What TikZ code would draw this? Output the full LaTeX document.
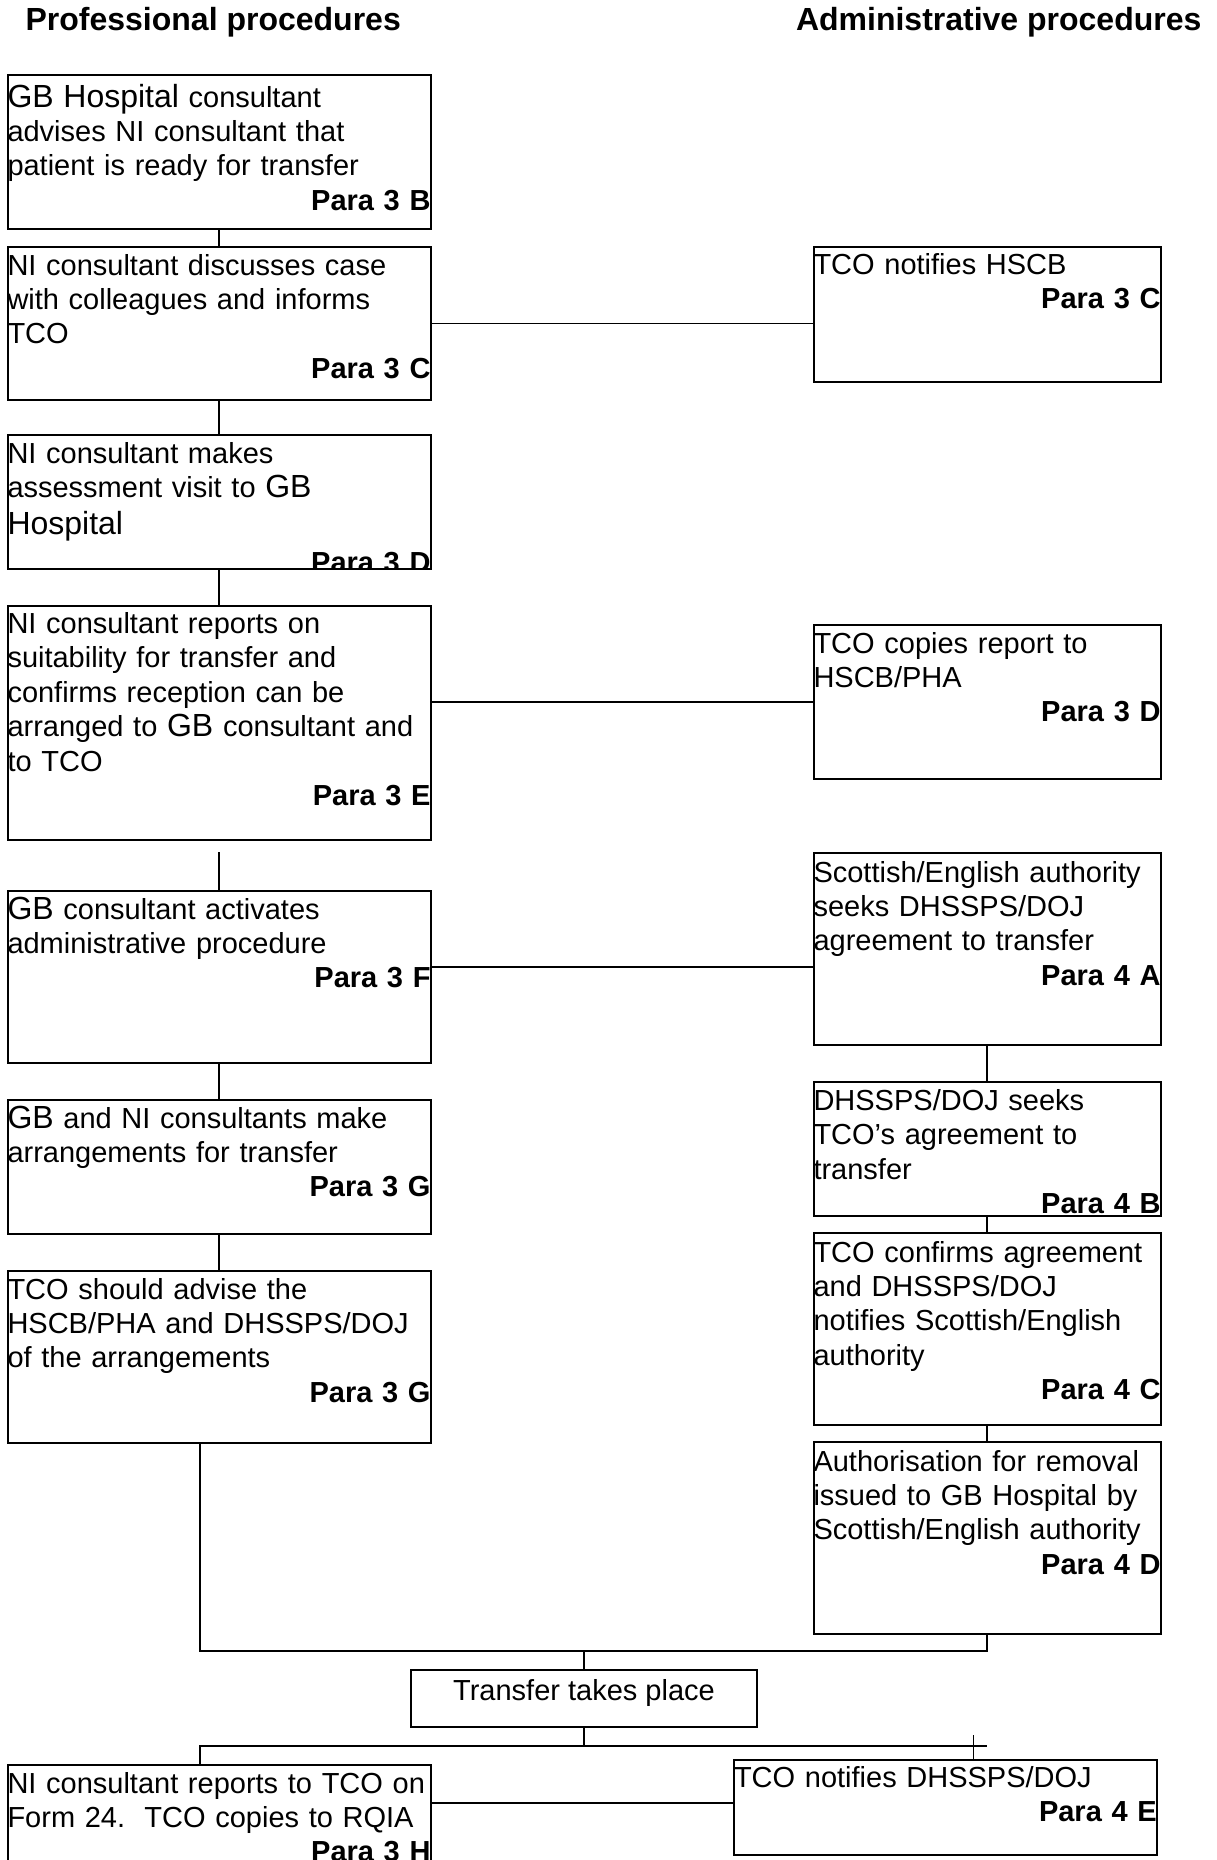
\documentclass[tikz,border=0pt]{standalone}
\usepackage{fontspec}
\setmainfont{Liberation Sans}
\newcommand\bigtxt[1]{{\fontsize{32}{34.4}\selectfont #1}}
\newcommand\paralab[1]{\\\hspace*{0pt plus 1filll}\textbf{#1}}
\newcommand\firststrut{\rule{0pt}{28pt}}
\newcommand\rstrut{\rule{0pt}{29pt}}
\begin{document}
\begin{tikzpicture}[x=1pt,y=-1pt,
  flowbox/.style={draw, line width=2pt, rectangle, inner sep=0pt, outer sep=0pt, anchor=north west},
  boxtext/.style={inner sep=0pt, outer sep=0pt, anchor=north west, align=left, font=\fontsize{29}{34.4}\selectfont},
  headtext/.style={inner sep=0pt, outer sep=0pt, anchor=base west, font=\bfseries\fontsize{32}{38}\selectfont},
  link/.style={line width=1.8pt}]
\useasboundingbox (0,0) rectangle (1216,1860);
\clip (0,0) rectangle (1216,1860);

% headings
\node[headtext] (h1) at (25.6,31) {Professional procedures};
\node[headtext] (h2) at (796,31) {Administrative procedures};

% left column boxes
\node[flowbox, minimum width=423pt, minimum height=154pt] (b1) at (7.5,75) {};
\node[flowbox, minimum width=423pt, minimum height=153pt] (b2) at (7.5,247) {};
\node[flowbox, minimum width=423pt, minimum height=134pt] (b3) at (7.5,435) {};
\node[flowbox, minimum width=423pt, minimum height=234.5pt] (b4) at (7.5,605.5) {};
\node[flowbox, minimum width=423pt, minimum height=172pt] (b5) at (7.5,891) {};
\node[flowbox, minimum width=423pt, minimum height=134pt] (b6) at (7.5,1100) {};
\node[flowbox, minimum width=423pt, minimum height=172pt] (b7) at (7.5,1271) {};
\node[flowbox, minimum width=423pt, minimum height=140pt] (b8) at (7.5,1765) {};

% right column boxes
\node[flowbox, minimum width=347pt, minimum height=134.5pt] (r1) at (813.5,247) {};
\node[flowbox, minimum width=347pt, minimum height=153.5pt] (r2) at (813.5,625) {};
\node[flowbox, minimum width=347pt, minimum height=191.5pt] (r3) at (813.5,853) {};
\node[flowbox, minimum width=347pt, minimum height=134pt] (r4) at (813.5,1081.5) {};
\node[flowbox, minimum width=347pt, minimum height=192pt] (r5) at (813.5,1233) {};
\node[flowbox, minimum width=347pt, minimum height=191.5pt] (r6) at (813.5,1442) {};
\node[flowbox, minimum width=422.7pt, minimum height=94.5pt] (r7) at (734,1760) {};
\node[flowbox, minimum width=346pt, minimum height=57pt] (tr) at (411,1670) {};

% left texts
\node[boxtext, text width=423pt] (t1) at (b1.north west) {\rule{0pt}{32pt}\bigtxt{GB Hospital} consultant\\advises NI consultant that\\patient is ready for transfer\paralab{Para 3 B}};
\node[boxtext, text width=423pt] (t2) at (b2.north west) {\firststrut NI consultant discusses case\\with colleagues and informs\\TCO\paralab{Para 3 C}};
\begin{scope}
\clip (b3.north west) rectangle (b3.south east);
\node[boxtext, text width=423pt] (t3) at (b3.north west) {\firststrut NI consultant makes\\assessment visit to \bigtxt{GB}\\[3pt]\bigtxt{Hospital}\\[3pt]\hspace*{0pt plus 1filll}\textbf{Para 3 D}};
\end{scope}
\node[boxtext, text width=423pt] (t4) at (b4.north west) {\firststrut NI consultant reports on\\suitability for transfer and\\confirms reception can be\\arranged to \bigtxt{GB} consultant and\\to TCO\paralab{Para 3 E}};
\node[boxtext, text width=423pt] (t5) at (b5.north west) {\firststrut\bigtxt{GB} consultant activates\\administrative procedure\paralab{Para 3 F}};
\node[boxtext, text width=423pt] (t6) at (b6.north west) {\firststrut\bigtxt{GB} and NI consultants make\\arrangements for transfer\paralab{Para 3 G}};
\node[boxtext, text width=423pt] (t7) at (b7.north west) {\firststrut TCO should advise the\\HSCB/PHA and DHSSPS/DOJ\\of the arrangements\paralab{Para 3 G}};
\node[boxtext, text width=423pt] (t8) at (b8.north west) {\firststrut NI consultant reports to TCO on\\Form 24.\ \ TCO copies to RQIA\paralab{Para 3 H}};

% right texts
\node[boxtext, text width=347pt] (s1) at (r1.north west) {\rule{0pt}{27pt}TCO notifies HSCB\paralab{Para 3 C}};
\node[boxtext, text width=347pt] (s2) at (r2.north west) {\firststrut TCO copies report to\\HSCB/PHA\paralab{Para 3 D}};
\node[boxtext, text width=347pt] (s3) at (r3.north west) {\rstrut Scottish/English authority\\seeks DHSSPS/DOJ\\agreement to transfer\paralab{Para 4 A}};
\node[boxtext, text width=347pt] (s4) at (r4.north west) {\rstrut DHSSPS/DOJ seeks\\TCO’s agreement to\\transfer\paralab{Para 4 B}};
\node[boxtext, text width=347pt] (s5) at (r5.north west) {\rstrut TCO confirms agreement\\and DHSSPS/DOJ\\notifies Scottish/English\\authority\paralab{Para 4 C}};
\node[boxtext, text width=347pt] (s6) at (r6.north west) {\rstrut Authorisation for removal\\issued to GB Hospital by\\Scottish/English authority\paralab{Para 4 D}};
\node[boxtext, text width=422.7pt] (s7) at (r7.north west) {\rule{0pt}{27pt}TCO notifies DHSSPS/DOJ\paralab{Para 4 E}};
\node[inner sep=0pt, anchor=base, font=\fontsize{29}{34.4}\selectfont] (ttr) at ([yshift=-30pt]tr.north) {Transfer takes place};

% left column connectors
\draw[link] (b1.south) -- (b2.north);
\draw[link] (b2.south) -- (b3.north);
\draw[link] (b3.south) -- (b4.north);
\draw[link] ([yshift=-12pt]b4.south) -- (b5.north);
\draw[link] (b5.south) -- (b6.north);
\draw[link] (b6.south) -- (b7.north);

% cross connectors
\draw[link] (b2.east) -- (b2.east -| r1.west);
\draw[link] (r2.west -| b4.east) -- (r2.west);
\coordinate (c5) at ([yshift=10pt]b5.east);
\draw[link] (c5) -- (c5 -| r3.west);

% right column connectors
\draw[link] (r3.south) -- (r4.north);
\draw[link] (r4.south) -- (r5.north);
\draw[link] (r5.south) -- (r6.north);

% merge into transfer
\coordinate (jA) at (584,1651);
\draw[link] ([xshift=-19pt]b7.south) |- (jA) -| (r6.south);
\draw[link] (jA) -- (tr.north);

% split after transfer
\coordinate (jB) at (584,1746);
\coordinate (jC) at (987,1746);
\coordinate (jD) at (973.5,1735);
\draw[link] (tr.south) -- (jB);
\draw[link] ([xshift=-19pt]b8.north) |- (jC);
\draw[link] (jD) -- (jD |- r7.north);
\coordinate (c8) at ([yshift=4pt]r7.west);
\draw[link] (c8 -| b8.east) -- (c8);
\end{tikzpicture}
\end{document}
